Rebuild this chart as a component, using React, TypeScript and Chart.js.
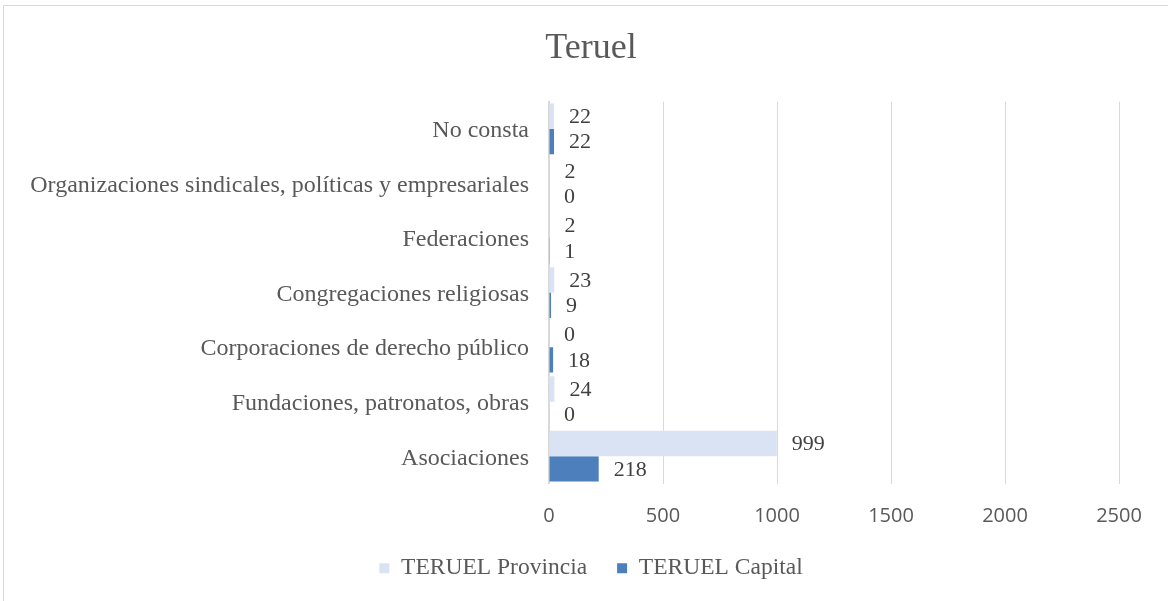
import React, { useEffect, useRef } from "react";
import { Chart, registerables } from "chart.js";

Chart.register(...registerables);

const categories = [
  "No consta",
  "Organizaciones sindicales, políticas y empresariales",
  "Federaciones",
  "Congregaciones religiosas",
  "Corporaciones de derecho público",
  "Fundaciones, patronatos, obras",
  "Asociaciones",
];
const provincia = [22, 2, 2, 23, 0, 24, 999];
const capital = [22, 0, 1, 9, 18, 0, 218];
const seriesNames = ["TERUEL Provincia", "TERUEL Capital"];
const xTicks = [0, 500, 1000, 1500, 2000, 2500];
const titleText = "Teruel";

const SERIF = "'Liberation Serif', 'Times New Roman', serif";
const SANS = "'Open Sans', 'Noto Sans', sans-serif";
const CANVAS_W = 1182;
const CANVAS_H = 601;
const PLOT_LEFT = 549;
const PLOT_RIGHT = 1119;

const dataLabelPlugin = {
  id: "dataLabels",
  afterDatasetsDraw(chart: any) {
    const ctx = chart.ctx;
    ctx.save();
    ctx.font = `22px ${SERIF}`;
    ctx.fillStyle = "#404040";
    ctx.textAlign = "left";
    ctx.textBaseline = "middle";
    chart.data.datasets.forEach((ds: any, di: number) => {
      const meta = chart.getDatasetMeta(di);
      meta.data.forEach((bar: any, i: number) => {
        const v = ds.data[i];
        ctx.fillText(String(v), bar.x + 15, bar.y + 1);
      });
    });
    ctx.restore();
  },
};

export default function App() {
  const ref = useRef<HTMLCanvasElement | null>(null);
  useEffect(() => {
    if (!ref.current) return;
    const chart = new Chart(ref.current, {
      type: "bar",
      data: {
        labels: categories,
        datasets: [
          {
            label: seriesNames[0],
            data: provincia,
            backgroundColor: "#dae3f3",
            categoryPercentage: 0.93,
            barPercentage: 1,
            yAxisID: "y",
          },
          {
            label: seriesNames[1],
            data: capital,
            backgroundColor: "#4d7fbd",
            categoryPercentage: 0.93,
            barPercentage: 1,
            yAxisID: "y",
          },
        ],
      },
      options: {
        indexAxis: "y",
        responsive: false,
        animation: false,
        devicePixelRatio: 1,
        layout: { padding: { top: 0, bottom: 11, left: 0, right: 0 } },
        plugins: {
          title: {
            display: true,
            text: titleText,
            color: "#595959",
            font: { family: SERIF, size: 36, weight: "normal" },
            padding: { top: 27, bottom: 31.5 },
          },
          legend: {
            display: true,
            position: "bottom",
            labels: {
              color: "#595959",
              font: { family: SERIF, size: 23.5 },
              boxWidth: 10,
              boxHeight: 10,
              padding: 30,
            },
          },
          tooltip: { enabled: false },
        },
        scales: {
          x: {
            type: "linear",
            min: xTicks[0],
            max: xTicks[xTicks.length - 1],
            afterBuildTicks: (scale: any) => {
              scale.ticks = xTicks.map((v) => ({ value: v }));
            },
            afterFit: (scale: any) => {
              scale.height = 43;
            },
            ticks: {
              color: "#595959",
              font: { family: SANS, size: 20 },
              padding: 20.5,
              callback: (v: any) => String(v),
            },
            grid: { color: "#d9d9d9", lineWidth: 1, drawTicks: false },
            border: { display: false },
          },
          y: {
            type: "category",
            position: "left",
            afterFit: (scale: any) => {
              scale.width = PLOT_LEFT;
              scale.paddingTop = 0;
              scale.paddingBottom = 0;
            },
            ticks: {
              color: "#595959",
              font: { family: SERIF, size: 24 },
              padding: 20,
              labelOffset: 2,
              autoSkip: false,
            },
            grid: { display: false, drawTicks: false },
            border: { display: true, color: "#d9d9d9", width: 2 },
          },
          yRight: {
            type: "linear",
            position: "right",
            display: true,
            afterFit: (scale: any) => {
              scale.width = CANVAS_W - PLOT_RIGHT;
              scale.paddingTop = 0;
              scale.paddingBottom = 0;
            },
            ticks: { display: false },
            grid: { display: false, drawTicks: false },
            border: { display: false },
          },
        },
      } as any,
      plugins: [dataLabelPlugin],
    });
    return () => chart.destroy();
  }, []);

  return (
    <div
      style={{
        position: "fixed",
        left: 0,
        top: 0,
        width: 1168,
        height: 601,
        overflow: "hidden",
        background: "#fff",
      }}
    >
      <div
        style={{
          position: "absolute",
          left: 3,
          top: 5,
          width: 1220,
          height: 640,
          border: "1px solid #d9d9d9",
        }}
      />
      <canvas
        ref={ref}
        width={CANVAS_W}
        height={CANVAS_H}
        style={{ position: "absolute", left: 0, top: 0, width: CANVAS_W, height: CANVAS_H }}
      />
    </div>
  );
}
